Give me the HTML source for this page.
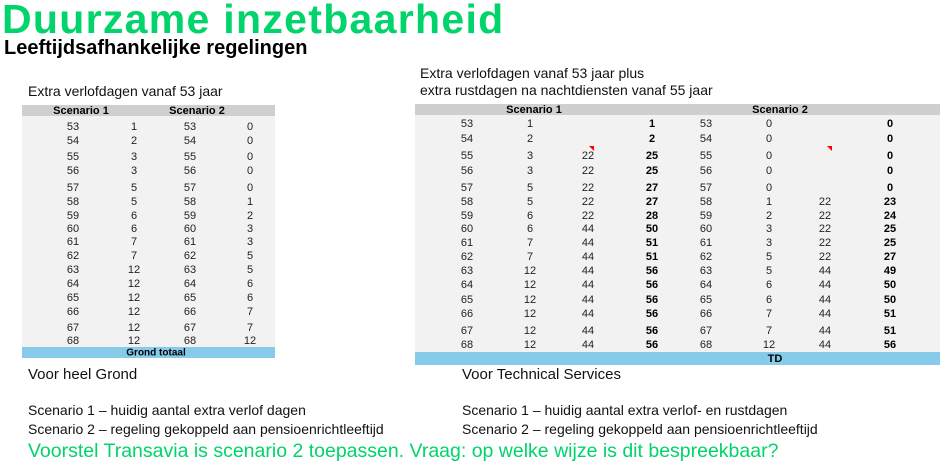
<!DOCTYPE html>
<html><head><meta charset="utf-8"><style>
body{margin:0;width:945px;height:472px;background:#fff;position:relative;overflow:hidden;font-family:"Liberation Sans",sans-serif;color:#111}
.a{position:absolute;white-space:nowrap}
.c{position:absolute;font-size:11px;transform:translate(-50%,-50%);color:#222}
.b{font-weight:bold;color:#000}
</style></head><body>
<div class="a" style="left:2px;top:-4px;font-size:41px;font-weight:bold;color:#00d46a;letter-spacing:1.3px">Duurzame inzetbaarheid</div>
<div class="a" style="left:4px;top:37px;font-size:20px;font-weight:bold;color:#000">Leeftijdsafhankelijke regelingen</div>
<div class="a" style="left:28px;top:83px;font-size:14px">Extra verlofdagen vanaf 53 jaar</div>
<div class="a" style="left:420px;top:65px;font-size:14px;line-height:17px">Extra verlofdagen vanaf 53 jaar plus<br>extra rustdagen na nachtdiensten vanaf 55 jaar</div>

<div class="a" style="left:22px;top:105px;width:253px;height:11px;background:#cfcfcf"></div>
<div class="a" style="left:22px;top:116px;width:253px;height:231px;background:#f2f2f2"></div>
<div class="a" style="left:22px;top:347px;width:253px;height:11px;background:#86cbea"></div>
<div class="c b" style="left:81px;top:111px">Scenario 1</div>
<div class="c b" style="left:197px;top:111px">Scenario 2</div>
<div class="c b" style="left:156px;top:353px;font-size:10px">Grond totaal</div>

<div class="a" style="left:415px;top:104px;width:525px;height:11px;background:#cfcfcf"></div>
<div class="a" style="left:415px;top:115px;width:525px;height:237px;background:#f2f2f2"></div>
<div class="a" style="left:415px;top:352px;width:525px;height:13px;background:#86cbea"></div>
<div class="c b" style="left:534px;top:110px">Scenario 1</div>
<div class="c b" style="left:780px;top:110px">Scenario 2</div>
<div class="c b" style="left:775px;top:359px">TD</div>
<div class="a" style="left:589px;top:146px;width:0;height:0;border-left:5px solid transparent;border-top:5px solid red"></div>
<div class="a" style="left:827px;top:146px;width:0;height:0;border-left:5px solid transparent;border-top:5px solid red"></div>

<div id="t"></div>

<div class="a" style="left:28px;top:366px;font-size:15px">Voor heel Grond</div>
<div class="a" style="left:462px;top:366px;font-size:15px">Voor Technical Services</div>
<div class="a" style="left:28px;top:401px;font-size:14px;line-height:19px">Scenario 1 – huidig aantal extra verlof dagen<br>Scenario 2 – regeling gekoppeld aan pensioenrichtleeftijd</div>
<div class="a" style="left:462px;top:401px;font-size:14px;line-height:19px">Scenario 1 – huidig aantal extra verlof- en rustdagen<br>Scenario 2 – regeling gekoppeld aan pensioenrichtleeftijd</div>
<div class="a" style="left:28px;top:440px;font-size:19.5px;color:#00d46a">Voorstel Transavia is scenario 2 toepassen. Vraag: op welke wijze is dit bespreekbaar?</div>

<script>
var L=[[53,1,53,0],[54,2,54,0],[55,3,55,0],[56,3,56,0],[57,5,57,0],[58,5,58,1],[59,6,59,2],[60,6,60,3],[61,7,61,3],[62,7,62,5],[63,12,63,5],[64,12,64,6],[65,12,65,6],[66,12,66,7],[67,12,67,7],[68,12,68,12]];
var LY=[127,141,157,171,188,202,216,229,242,256,270,284,298,312,328,341];
var LX=[73,134,190,250];
var R=[[53,1,'',1,53,0,'',0],[54,2,'',2,54,0,'',0],[55,3,22,25,55,0,'',0],[56,3,22,25,56,0,'',0],[57,5,22,27,57,0,'',0],[58,5,22,27,58,1,22,23],[59,6,22,28,59,2,22,24],[60,6,44,50,60,3,22,25],[61,7,44,51,61,3,22,25],[62,7,44,51,62,5,22,27],[63,12,44,56,63,5,44,49],[64,12,44,56,64,6,44,50],[65,12,44,56,65,6,44,50],[66,12,44,56,66,7,44,51],[67,12,44,56,67,7,44,51],[68,12,44,56,68,12,44,56]];
var RY=[124,139,156,171,188,202,216,229,243,257,271,285,300,314,331,345];
var RX=[467,530,588,652,706,769,825,890];
var h='';
L.forEach(function(r,i){r.forEach(function(v,j){h+='<div class="c" style="left:'+LX[j]+'px;top:'+LY[i]+'px">'+v+'</div>';});});
R.forEach(function(r,i){r.forEach(function(v,j){h+='<div class="c'+((j==3||j==7)?' b':'')+'" style="left:'+RX[j]+'px;top:'+RY[i]+'px">'+v+'</div>';});});
document.getElementById('t').innerHTML=h;
</script>
</body></html>
